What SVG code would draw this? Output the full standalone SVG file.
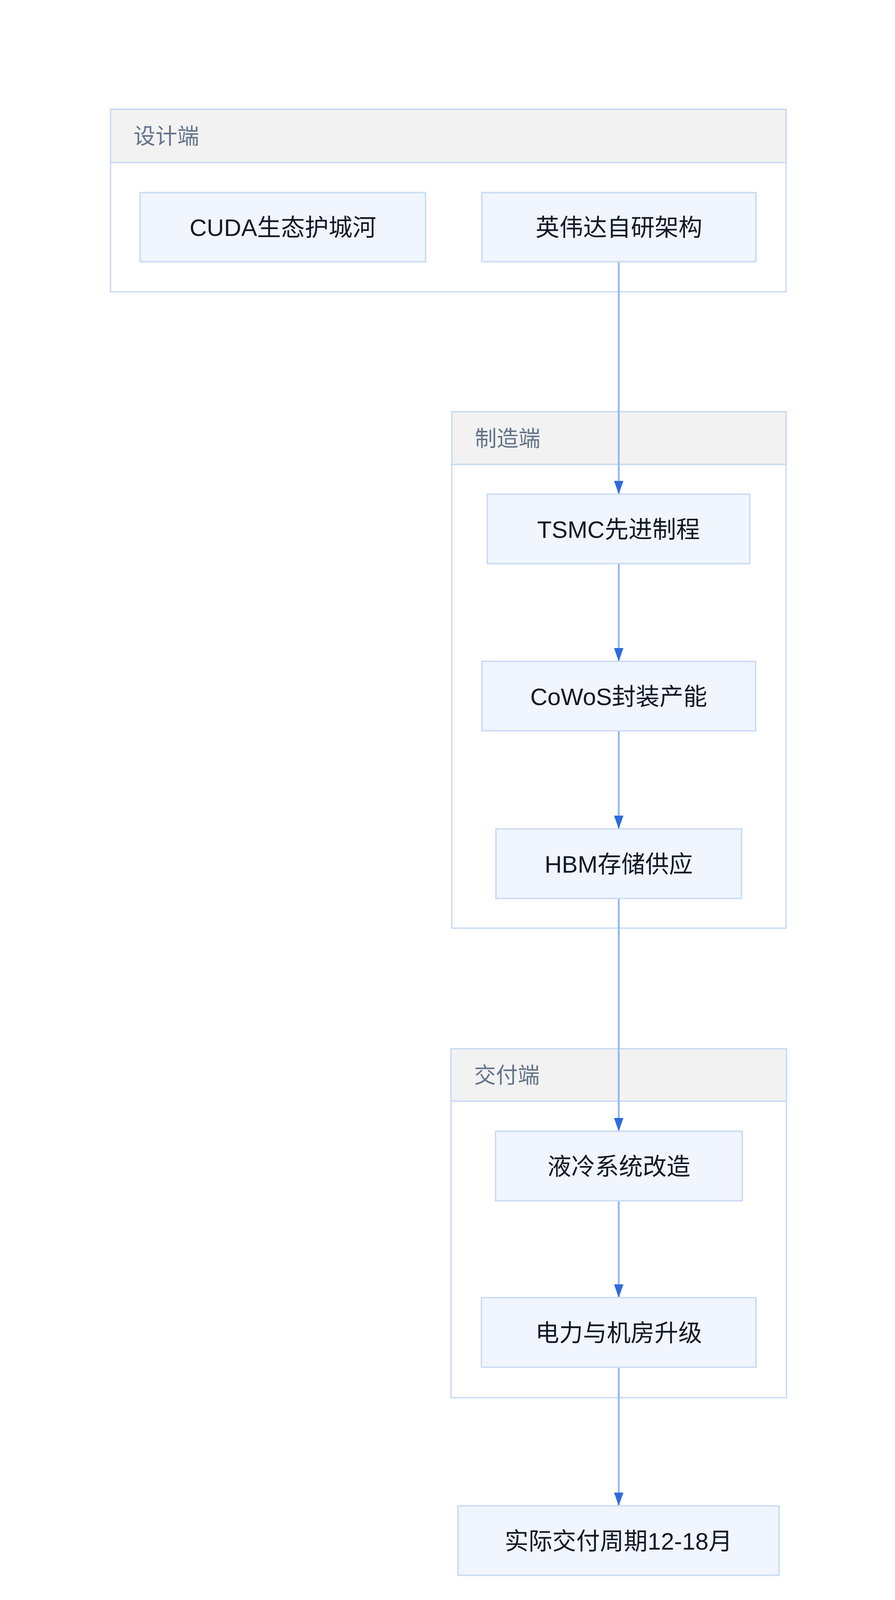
<svg xmlns="http://www.w3.org/2000/svg" width="2292" height="4312" viewBox="0 0 2292 4312">
<style>
.cl{fill:#ffffff;stroke:#c9daf3;stroke-width:3.5}
.ch{fill:#f2f2f2;stroke:#c9daf3;stroke-width:3.5}
.cll{font-family:"Liberation Sans","Noto Sans CJK SC",sans-serif;font-size:56px;fill:#64748b;dominant-baseline:central}
.nd{fill:#f0f5fe;stroke:#c9daf3;stroke-width:3.5}
.nt{font-family:"Liberation Sans","Noto Sans CJK SC",sans-serif;font-size:61px;fill:#111827;text-anchor:middle;dominant-baseline:central}
.ed{fill:none;stroke:#8fb4f1;stroke-width:4.5}
</style>
<defs>
<marker id="ah" markerUnits="userSpaceOnUse" markerWidth="34" markerHeight="24" viewBox="0 0 34 24" refX="33" refY="12" orient="auto">
<path d="M0,0 L34,12 L0,24 Z" fill="#2f6bdb"/>
</marker>
</defs>
<rect width="2292" height="4312" fill="#ffffff"/>

<g id="cluster-design">
<rect class="cl" x="283" y="280" width="1730" height="467"/>
<rect class="ch" x="283" y="280" width="1730" height="136"/>
<text class="cll" x="342" y="348">设计端</text>
</g>
<g id="cluster-manufacture">
<rect class="cl" x="1157" y="1054" width="856" height="1322"/>
<rect class="ch" x="1157" y="1054" width="856" height="135"/>
<text class="cll" x="1216" y="1122">制造端</text>
</g>
<g id="cluster-delivery">
<rect class="cl" x="1155" y="2685" width="859" height="893"/>
<rect class="ch" x="1155" y="2685" width="859" height="134"/>
<text class="cll" x="1214" y="2752">交付端</text>
</g>

<g id="connectors">
<path class="ed" d="M1584.5,670 L1584.5,1264" marker-end="url(#ah)"/>
<path class="ed" d="M1584.5,1443 L1584.5,1692" marker-end="url(#ah)"/>
<path class="ed" d="M1584.5,1871 L1584.5,2121" marker-end="url(#ah)"/>
<path class="ed" d="M1584.5,2300 L1584.5,2895" marker-end="url(#ah)"/>
<path class="ed" d="M1584.5,3074 L1584.5,3321" marker-end="url(#ah)"/>
<path class="ed" d="M1584.5,3500 L1584.5,3854" marker-end="url(#ah)"/>
</g>

<g id="node-cuda">
<rect class="nd" x="359" y="493" width="731" height="177"/>
<text class="nt" x="724.5" y="583">CUDA生态护城河</text>
</g>
<g id="node-nvidia">
<rect class="nd" x="1234" y="493" width="702" height="177"/>
<text class="nt" x="1585" y="583">英伟达自研架构</text>
</g>
<g id="node-tsmc">
<rect class="nd" x="1248" y="1265" width="672" height="178"/>
<text class="nt" x="1584" y="1356">TSMC先进制程</text>
</g>
<g id="node-cowos">
<rect class="nd" x="1234" y="1693" width="701" height="178"/>
<text class="nt" x="1584.5" y="1784">CoWoS封装产能</text>
</g>
<g id="node-hbm">
<rect class="nd" x="1270" y="2122" width="629" height="178"/>
<text class="nt" x="1584.5" y="2213">HBM存储供应</text>
</g>
<g id="node-cooling">
<rect class="nd" x="1269" y="2896" width="632" height="178"/>
<text class="nt" x="1585" y="2987">液冷系统改造</text>
</g>
<g id="node-power">
<rect class="nd" x="1233" y="3322" width="703" height="178"/>
<text class="nt" x="1584.5" y="3413">电力与机房升级</text>
</g>
<g id="node-delivery">
<rect class="nd" x="1173" y="3855" width="822" height="178"/>
<text class="nt" x="1584" y="3946">实际交付周期12-18月</text>
</g>
</svg>
